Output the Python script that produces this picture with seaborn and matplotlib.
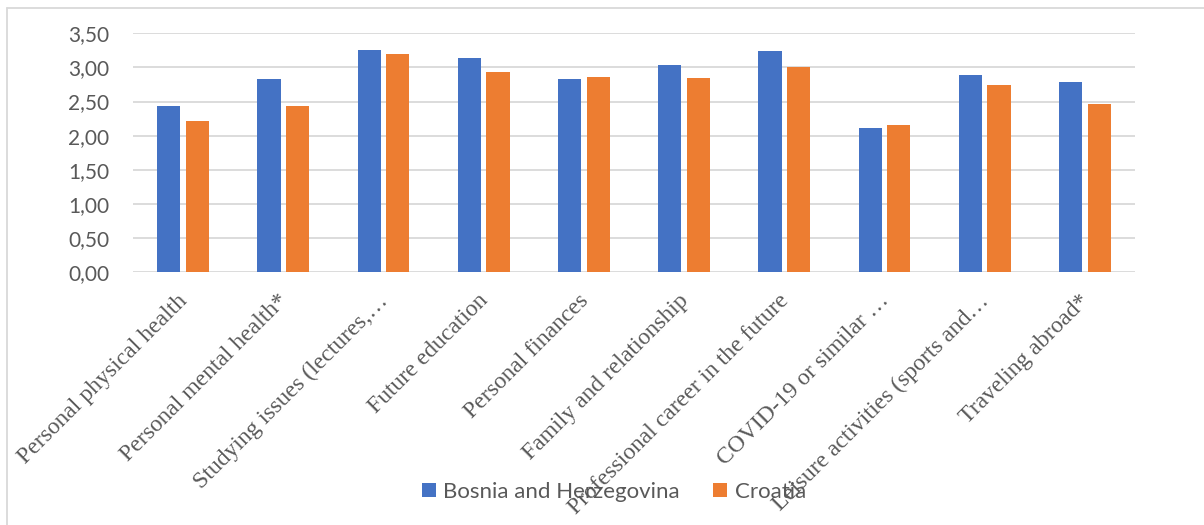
import matplotlib
matplotlib.use("Agg")
import matplotlib.pyplot as plt
import matplotlib.transforms as mtransforms
from matplotlib.lines import Line2D
import seaborn as sns
import pandas as pd

# Survey categories (x axis)
categories = [
    "Personal physical health",
    "Personal mental health*",
    "Studying issues (lectures,\u2026",
    "Future education",
    "Personal finances",
    "Family and relationship",
    "Professional career in the future",
    "COVID-19 or similar \u2026",
    "Leisure activities (sports and\u2026",
    "Traveling abroad*",
]

# Mean scores per country
series_names = ["Bosnia and Herzegovina", "Croatia"]
bosnia = [2.44, 2.83, 3.25, 3.14, 2.83, 3.03, 3.24, 2.11, 2.89, 2.79]
croatia = [2.21, 2.44, 3.19, 2.94, 2.86, 2.84, 3.01, 2.16, 2.75, 2.47]

# Y axis ticks
y_ticks = [0.0, 0.5, 1.0, 1.5, 2.0, 2.5, 3.0, 3.5]

df = pd.DataFrame({
    "category": categories * 2,
    "country": [series_names[0]] * len(categories) + [series_names[1]] * len(categories),
    "value": bosnia + croatia,
})

sns.set_theme(style="white")
plt.rcParams["font.family"] = ["Lato", "DejaVu Sans"]

text_grey = "#595959"
grid_grey = "#d9d9d9"
palette = ["#4472C4", "#ED7D31"]

fig = plt.figure(figsize=(12.04, 5.25), dpi=100)
ax = fig.add_axes([133 / 1204, 1 - 272.3 / 525, (1135 - 133) / 1204, (272.3 - 33.3) / 525])

sns.barplot(
    data=df, x="category", y="value", hue="country",
    palette=palette, saturation=1, width=0.57, gap=0.19, linewidth=0,
    ax=ax, legend=True,
)

ax.set_ylim(0, 3.5)
ax.set_xlim(-0.5, len(categories) - 0.5)
ax.set_yticks(y_ticks)
ax.set_yticklabels([f"{v:.2f}".replace(".", ",") for v in y_ticks],
                   fontsize=15, color=text_grey)
ax.yaxis.grid(True, color=grid_grey, linewidth=1.3)
ax.set_axisbelow(True)
for side in ["top", "right", "left", "bottom"]:
    ax.spines[side].set_visible(False)
ax.set_xlabel("")
ax.set_ylabel("")
ax.tick_params(axis="y", length=0, pad=17)
ax.tick_params(axis="x", length=0, pad=13)

# Rotated category names, right end anchored next to each tick
ax.set_xticks(range(len(categories)))
ax.set_xticklabels(categories, rotation=45, ha="right", va="top",
                   rotation_mode="anchor", color=text_grey,
                   fontfamily="Liberation Serif", fontsize=17)
shift = mtransforms.ScaledTranslation(-0.06, 0, fig.dpi_scale_trans)
for lbl in ax.get_xticklabels():
    lbl.set_transform(lbl.get_transform() + shift)

handles, labels = ax.get_legend_handles_labels()
ax.get_legend().remove()
fig.legend(handles, labels, loc="center", bbox_to_anchor=(0.51, 0.063),
           ncol=2, frameon=False, fontsize=16, labelcolor=text_grey,
           handlelength=0.6, handleheight=0.6, handletextpad=0.35,
           columnspacing=1.5)

# Chart frame (left and top edges)
fig.add_artist(Line2D([7 / 1204, 7 / 1204], [0, 1 - 8 / 525],
                      transform=fig.transFigure, color=grid_grey, linewidth=1.3))
fig.add_artist(Line2D([7 / 1204, 1], [1 - 8 / 525, 1 - 8 / 525],
                      transform=fig.transFigure, color=grid_grey, linewidth=1.3))

fig.savefig("out.png", dpi=100)
